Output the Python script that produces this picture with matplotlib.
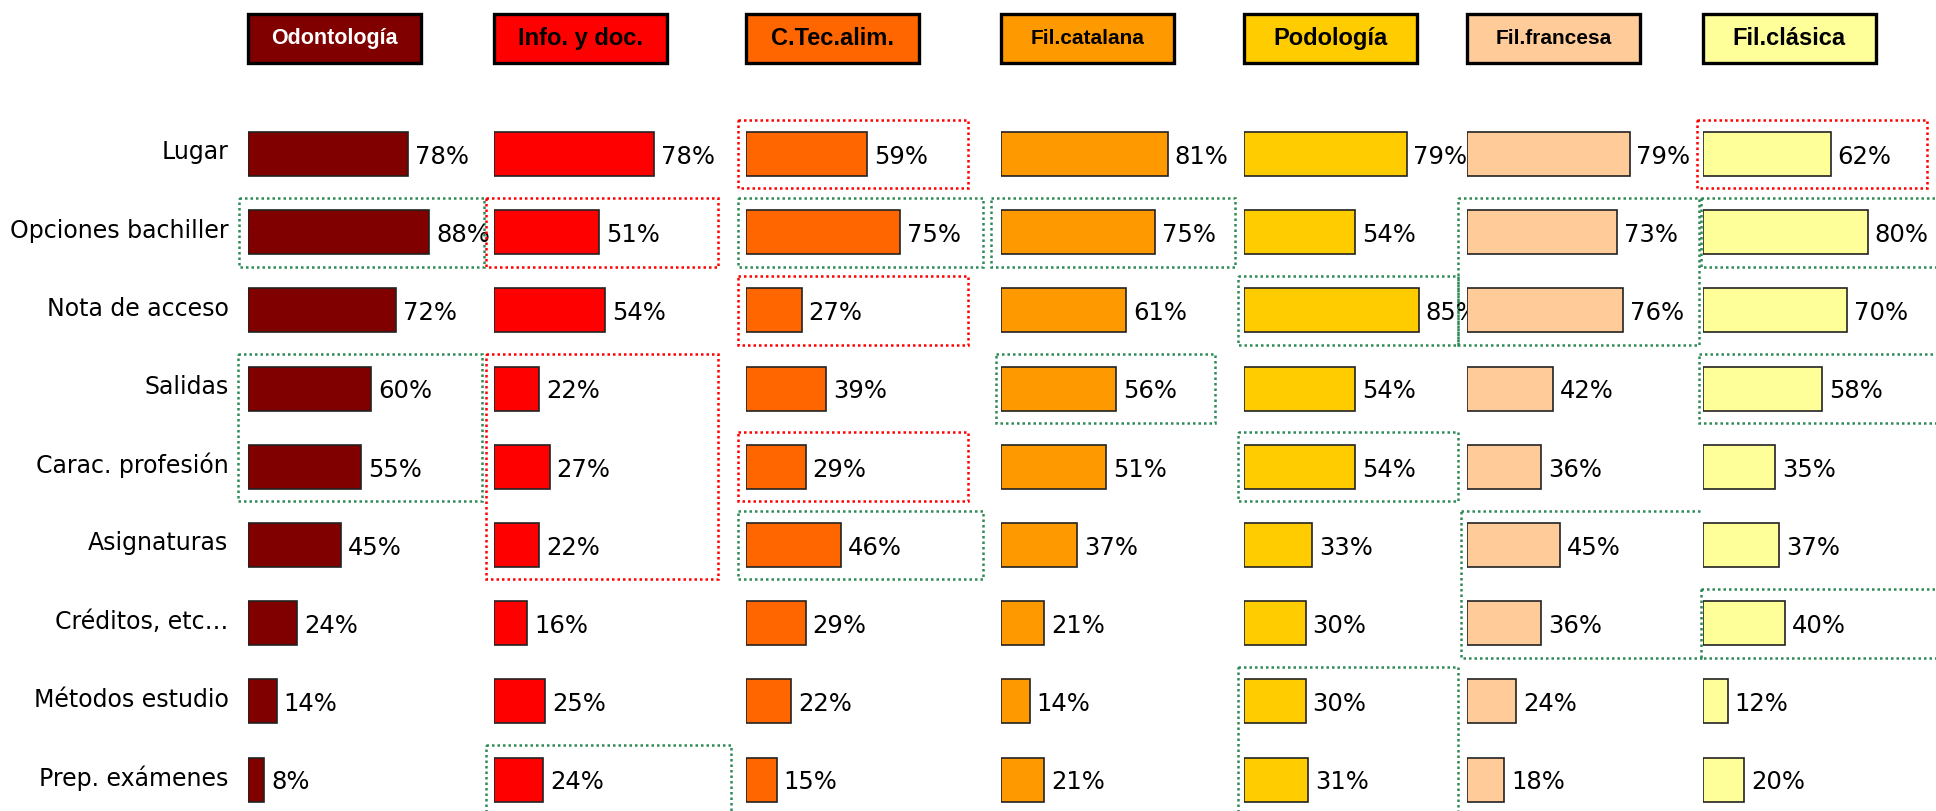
import matplotlib.pyplot as plt
from matplotlib.patches import Rectangle
from matplotlib.transforms import blended_transform_factory, ScaledTranslation

# ------------------------------------------------------------
# DATA
# ------------------------------------------------------------
categories = ['Lugar', 'Opciones bachiller', 'Nota de acceso', 'Salidas',
              'Carac. profesión', 'Asignaturas', 'Créditos, etc…',
              'Métodos estudio', 'Prep. exámenes']

degrees = ['Odontología', 'Info. y doc.', 'C.Tec.alim.', 'Fil.catalana',
           'Podología', 'Fil.francesa', 'Fil.clásica']

odontologia = [78, 88, 72, 60, 55, 45, 24, 14, 8]
info_doc = [78, 51, 54, 22, 27, 22, 16, 25, 24]
ctec_alim = [59, 75, 27, 39, 29, 46, 29, 22, 15]
fil_catalana = [81, 75, 61, 56, 51, 37, 21, 14, 21]
podologia = [79, 54, 85, 54, 54, 33, 30, 30, 31]
fil_francesa = [79, 73, 76, 42, 36, 45, 36, 24, 18]
fil_clasica = [62, 80, 70, 58, 35, 37, 40, 12, 20]

series = [odontologia, info_doc, ctec_alim, fil_catalana,
          podologia, fil_francesa, fil_clasica]

# ------------------------------------------------------------
# STYLE / LAYOUT
# ------------------------------------------------------------
colors = ['#800000', '#FF0000', '#FF6600', '#FF9900',
          '#FFCC00', '#FFCC99', '#FFFF99']
header_text_colors = ['white', 'black', 'black', 'black', 'black', 'black', 'black']
header_sizes = [15.5, 17, 17, 15, 17, 15, 17]

W, H = 1936, 811
col_left_px = [248, 494, 746, 1001, 1244, 1467, 1703]  # bar origin of each column
px_per_pct = 2.057
row_px = 78.2
first_row_px = 154

# highlight boxes: (column, first row, last row, x0 %, x1 %, colour)
RED = '#FF0000'
GREEN = '#2E8B57'
highlights = [
    (2, 0, 0, -4, 108, RED), (1, 1, 1, -4, 109, RED), (2, 2, 2, -4, 108, RED),
    (1, 3, 5, -4, 109, RED), (2, 4, 4, -4, 108, RED), (6, 0, 0, -3, 109, RED),
    (0, 1, 1, -4.5, 114.5, GREEN), (0, 3, 4, -5, 114, GREEN),
    (1, 8, 8, -4, 115, GREEN), (2, 1, 1, -4, 115, GREEN), (2, 5, 5, -4, 115, GREEN),
    (3, 1, 1, -5, 114, GREEN), (3, 3, 3, -2.5, 104, GREEN),
    (4, 2, 2, -3, 104, GREEN), (4, 4, 4, -3, 104, GREEN), (4, 7, 8, -3, 104, GREEN),
    (5, 1, 2, -4.5, 113, GREEN), (5, 5, 6, -3, 116, GREEN),
    (6, 1, 1, -1, 130, GREEN), (6, 3, 3, -2, 130, GREEN), (6, 6, 6, -1, 130, GREEN),
]

plt.rcParams['font.family'] = ['DejaVu Sans']

fig = plt.figure(figsize=(W / 100, H / 100), dpi=100)

n = len(categories)
top_px = first_row_px - row_px / 2
bottom_px = first_row_px + (n - 0.5) * row_px
ax_w = 100 * px_per_pct / W
ax_bottom = 1 - bottom_px / H
ax_h = (bottom_px - top_px) / H

rows = list(range(n))
for c, vals in enumerate(series):
    ax = fig.add_axes([col_left_px[c] / W, ax_bottom, ax_w, ax_h])
    ax.barh(rows, vals, height=0.563, color=colors[c],
            edgecolor='#222222', linewidth=1.2)
    for r, v in zip(rows, vals):
        ax.annotate(f'{v}%', (v, r), xytext=(5, -2), textcoords='offset points',
                    va='center', ha='left', fontsize=17.5, color='black',
                    annotation_clip=False)
    ax.set_xlim(0, 100)
    ax.set_ylim(n - 0.5, -0.5)
    for s in ax.spines.values():
        s.set_visible(False)
    ax.set_xticks([])
    if c == 0:
        ax.set_yticks(rows)
        ax.set_yticklabels(categories, fontsize=17)
        ax.tick_params(axis='y', length=0, pad=14)
        shift = ScaledTranslation(0, 3 / 72, fig.dpi_scale_trans)
        for lab in ax.get_yticklabels():
            lab.set_transform(lab.get_transform() + shift)
    else:
        ax.set_yticks([])

    # dotted highlight boxes
    for hc, r0, r1, x0, x1, col in highlights:
        if hc != c:
            continue
        ax.add_patch(Rectangle((x0, r0 - 0.44), x1 - x0, (r1 - r0) + 0.88,
                               fill=False, edgecolor=col, linewidth=1.8,
                               linestyle=(0, (1, 1.2)), clip_on=False))

    # header box
    tr = blended_transform_factory(ax.transData, fig.transFigure)
    hy0 = 1 - 63 / H
    hh = 49 / H
    ax.add_patch(Rectangle((0, hy0), 84, hh, transform=tr, facecolor=colors[c],
                           edgecolor='black', linewidth=2.4, clip_on=False))
    ax.text(42, hy0 + hh / 2, degrees[c], transform=tr, ha='center', va='center',
            fontsize=header_sizes[c], fontweight='bold',
            color=header_text_colors[c], family=['Liberation Sans', 'DejaVu Sans'])

fig.savefig('out.png', dpi=100)
plt.close(fig)
